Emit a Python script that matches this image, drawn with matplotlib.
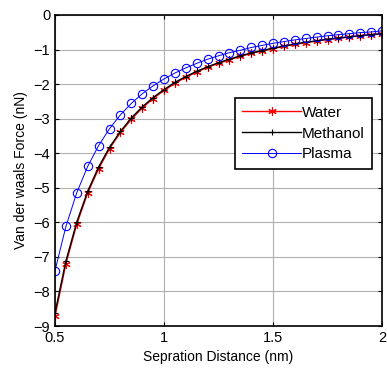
import numpy as np
import matplotlib
matplotlib.use('Agg')
import matplotlib.pyplot as plt

# Separation distance (nm)
distance = [0.50, 0.55, 0.60, 0.65, 0.70, 0.75, 0.80, 0.85, 0.90, 0.95,
            1.00, 1.05, 1.10, 1.15, 1.20, 1.25, 1.30, 1.35, 1.40, 1.45,
            1.50, 1.55, 1.60, 1.65, 1.70, 1.75, 1.80, 1.85, 1.90, 1.95, 2.00]

# Van der Waals force (nN)
water = [-8.72, -7.20, -6.05, -5.15, -4.45, -3.87, -3.40, -3.02, -2.69, -2.42,
         -2.18, -1.98, -1.80, -1.65, -1.51, -1.40, -1.29, -1.20, -1.11, -1.04,
         -0.97, -0.91, -0.85, -0.80, -0.75, -0.71, -0.67, -0.64, -0.60, -0.57, -0.55]
methanol = [-8.62, -7.12, -5.99, -5.10, -4.40, -3.83, -3.37, -2.98, -2.66, -2.39,
            -2.16, -1.95, -1.78, -1.63, -1.50, -1.38, -1.28, -1.18, -1.10, -1.03,
            -0.96, -0.90, -0.84, -0.79, -0.75, -0.70, -0.67, -0.63, -0.60, -0.57, -0.54]
plasma = [-7.40, -6.12, -5.14, -4.38, -3.78, -3.29, -2.89, -2.56, -2.28, -2.05,
          -1.85, -1.68, -1.53, -1.40, -1.28, -1.18, -1.09, -1.02, -0.94, -0.88,
          -0.82, -0.77, -0.72, -0.68, -0.64, -0.60, -0.57, -0.54, -0.51, -0.49, -0.46]

plt.rcParams['font.family'] = ['Liberation Sans', 'DejaVu Sans']

fig = plt.figure(figsize=(3.87, 3.71), dpi=100)
ax = fig.add_axes([55 / 387, 45 / 371, 327 / 387, 311 / 371])

ax.plot(distance, water, color='red', lw=1.0, marker=(6, 2, 0), ms=6,
        mew=0.8, label='Water')
ax.plot(distance, methanol, color='black', lw=1.0, marker='+', ms=5,
        mew=0.8, label='Methanol')
ax.plot(distance, plasma, color='blue', lw=0.7, marker='o', ms=6,
        mfc='none', mew=0.8, label='Plasma')

ax.set_xlim(0.5, 2)
ax.set_ylim(-9, 0)
ax.set_xticks([0.5, 1, 1.5, 2])
ax.set_xticklabels(['0.5', '1', '1.5', '2'])
ax.set_yticks(range(-9, 1))
ax.grid(True, color='#b0b0b0', lw=0.8)
ax.set_axisbelow(True)
ax.tick_params(direction='in', top=True, right=True, labelsize=10.5, length=3)
for s in ax.spines.values():
    s.set_linewidth(1.2)

ax.set_xlabel('Sepration Distance (nm)', fontsize=10)
ax.set_ylabel('Van der waals Force (nN)', fontsize=10)

leg = ax.legend(loc='upper left', bbox_to_anchor=(0.55, 0.733), fontsize=11,
                fancybox=False, framealpha=1, edgecolor='black',
                borderpad=0.5, borderaxespad=0, handlelength=3.8,
                labelspacing=0.45, handletextpad=0.1)
leg.get_frame().set_linewidth(1.2)

fig.savefig('out.png', dpi=100)
